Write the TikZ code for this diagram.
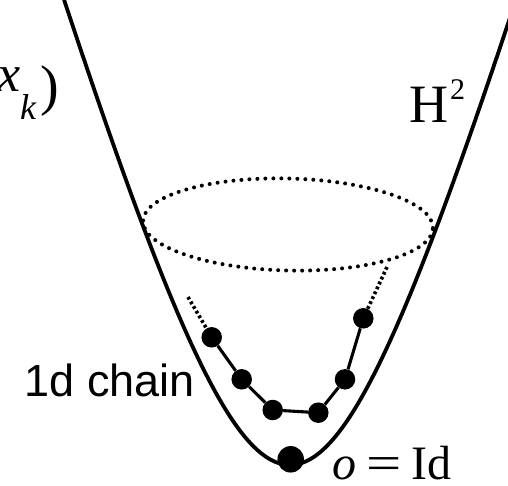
\documentclass[tikz,border=0pt]{standalone}
\usepackage{fontspec}
\setmainfont{Liberation Serif}
\newfontfamily\chainfont{Liberation Sans}
\usetikzlibrary{positioning}

\begin{document}
\begin{tikzpicture}[
  x=1pt, y=-1pt,
  bead/.style={circle, fill=black, inner sep=0pt, minimum size=20.5pt},
  origin/.style={circle, fill=black, inner sep=0pt, minimum size=26.5pt},
  link/.style={line width=3.1pt},
  tail/.style={line width=3.6pt, dash pattern=on 2.8pt off 2.6pt},
  sheet/.style={line width=3.8pt},
  rim/.style={line width=4pt, line cap=round, dash pattern=on 0pt off 8pt},
  lbl/.style={inner sep=0pt}
]
\useasboundingbox (0,0) rectangle (508,486);

\draw[sheet] plot[domain=-1.39:1.45, samples=120, smooth]
  ({290+120*sinh(\x)}, {465-411*(cosh(\x)-1)});
\draw[rim, rotate around={-1.4:(288,224.5)}] (288,224.5) ellipse [x radius=145pt, y radius=46pt];

\node[bead] (b1) at (211.7,337.3) {};
\node[bead] (b2) at (241.7,379.3) {};
\node[bead] (b3) at (272.7,410) {};
\node[bead] (b4) at (318.3,412.7) {};
\node[bead] (b5) at (345,379.3) {};
\node[bead] (b6) at (363.3,318.3) {};
\node[origin] (o) at (290.7,459.3) {};
\coordinate (t1) at (188,297);
\coordinate (t6) at (387,267);

\draw[link] (b1) -- (b2) -- (b3) -- (b4) -- (b5) -- (b6);
\draw[tail] (t1) -- (b1);
\draw[tail] (t6) -- (b6);

\node[lbl, anchor=base west, font=\fontsize{52}{52}\selectfont\itshape] (x) at (-3,92) {x};
\node[lbl, anchor=base west, font=\fontsize{36}{36}\selectfont\itshape] (k) at (20,120) {k};
\node[lbl, anchor=base west, font=\fontsize{56}{56}\selectfont] (paren) at (40,105) {)};
\node[lbl, anchor=base west, font=\fontsize{54}{54}\selectfont] (hyp) at (409,123) {H};
\node[lbl, anchor=base west, font=\fontsize{30}{30}\selectfont] (sq) at (450,100) {2};
\node[lbl, anchor=base east, font=\chainfont\fontsize{45}{45}\selectfont] (chain) at (195,396) {1d chain};
\node[lbl, anchor=base west, font=\fontsize{48}{48}\selectfont] (id) at (332,479)
  {\textit{o}\kern10pt\scalebox{1.3}[1]{=}\kern10pt Id};
\end{tikzpicture}
\end{document}
